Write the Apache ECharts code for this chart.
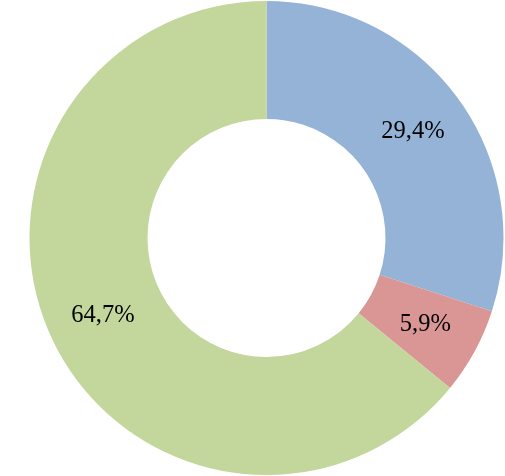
<!DOCTYPE html>
<html>
<head>
<meta charset="utf-8">
<script src="https://cdn.jsdelivr.net/npm/echarts@6/dist/echarts.min.js"></script>
<style>
  html, body { margin: 0; padding: 0; background: #fff; }
  #chart { width: 505px; height: 476px; }
</style>
</head>
<body>
<div id="chart"></div>
<script>
const names = ["A", "B", "C"];
const values = [30.0, 5.9, 64.1];
const labels = ["29,4%", "5,9%", "64,7%"];
const colors = ["#95b3d7", "#d99694", "#c3d69b"];

const chart = echarts.init(document.getElementById("chart"));

const option = {
  animation: false,
  series: [
    {
      type: "pie",
      center: [266.5, 238],
      radius: [119, 237],
      startAngle: 90,
      clockwise: true,
      avoidLabelOverlap: false,
      data: names.map((n, i) => ({
        name: n,
        value: values[i],
        itemStyle: { color: colors[i] },
      })),
      label: {
        show: true,
        position: "inside",
        fontFamily: "Liberation Serif",
        fontSize: 24.5,
        color: "#000",
        formatter: (p) => labels[p.dataIndex],
      },
      labelLine: { show: false },
      emphasis: { disabled: true },
    },
  ],
};

chart.setOption(option);
</script>
</body>
</html>
